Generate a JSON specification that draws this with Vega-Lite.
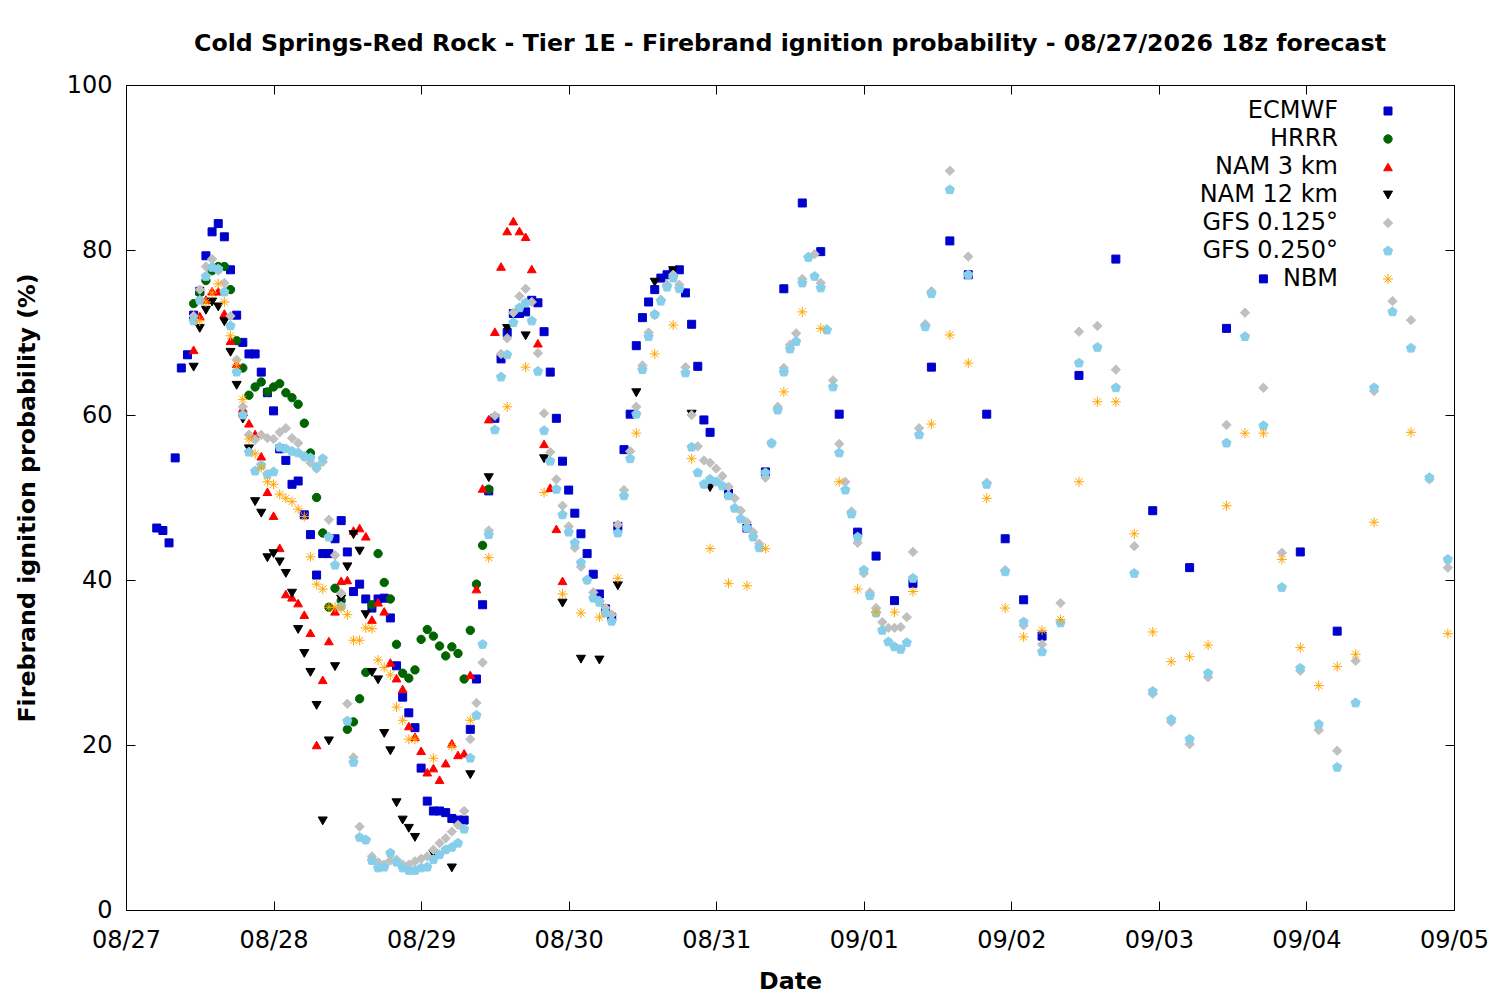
{
"$schema":"https://vega.github.io/schema/vega-lite/v6.json",
"autosize":{"type":"none"},
"width":1328,"height":825,
"padding":{"left":126,"top":85,"right":46,"bottom":90},
"background":"white",
"title":{"text":"Cold Springs-Red Rock - Tier 1E - Firebrand ignition probability - 08/27/2026 18z forecast","font":"DejaVu Sans","fontSize":23.7,"fontWeight":"bold","color":"black","anchor":"middle","offset":-2,"baseline":"alphabetic"},
"config":{
 "view":{"stroke":"black","strokeWidth":1},
 "font":"DejaVu Sans",
 "axis":{"domain":false,"grid":false,"labelColor":"black","tickColor":"black","titleColor":"black","labelFont":"DejaVu Sans","titleFont":"DejaVu Sans","tickWidth":1},
 "legend":{"orient":"none","legendX":1250,"legendY":14,"labelFont":"DejaVu Sans","labelFontSize":24,"labelColor":"black","labelAlign":"right","labelOffset":-62,"labelLimit":400,"symbolStrokeWidth":1,"symbolOpacity":1,"rowPadding":4,"padding":0}
},
"data":{"values":[
{"m":"ECMWF","t":"2026-08-27T05:00","v":46.3},{"m":"ECMWF","t":"2026-08-27T06:00","v":46.0},{"m":"ECMWF","t":"2026-08-27T07:00","v":44.5},{"m":"ECMWF","t":"2026-08-27T08:00","v":54.8},{"m":"ECMWF","t":"2026-08-27T09:00","v":65.7},{"m":"ECMWF","t":"2026-08-27T10:00","v":67.3},{"m":"ECMWF","t":"2026-08-27T11:00","v":72.1},{"m":"ECMWF","t":"2026-08-27T12:00","v":75.0},{"m":"ECMWF","t":"2026-08-27T13:00","v":79.3},{"m":"ECMWF","t":"2026-08-27T14:00","v":82.2},{"m":"ECMWF","t":"2026-08-27T15:00","v":83.2},{"m":"ECMWF","t":"2026-08-27T16:00","v":81.6},{"m":"ECMWF","t":"2026-08-27T17:00","v":77.6},{"m":"ECMWF","t":"2026-08-27T18:00","v":72.1},{"m":"ECMWF","t":"2026-08-27T19:00","v":68.8},{"m":"ECMWF","t":"2026-08-27T20:00","v":67.4},{"m":"ECMWF","t":"2026-08-27T21:00","v":67.4},{"m":"ECMWF","t":"2026-08-27T22:00","v":65.2},{"m":"ECMWF","t":"2026-08-27T23:00","v":62.7},
{"m":"ECMWF","t":"2026-08-28T00:00","v":60.5},{"m":"ECMWF","t":"2026-08-28T01:00","v":55.9},{"m":"ECMWF","t":"2026-08-28T02:00","v":54.5},{"m":"ECMWF","t":"2026-08-28T03:00","v":51.6},{"m":"ECMWF","t":"2026-08-28T04:00","v":52.0},{"m":"ECMWF","t":"2026-08-28T05:00","v":47.9},{"m":"ECMWF","t":"2026-08-28T06:00","v":45.5},{"m":"ECMWF","t":"2026-08-28T07:00","v":40.6},{"m":"ECMWF","t":"2026-08-28T08:00","v":43.2},{"m":"ECMWF","t":"2026-08-28T09:00","v":43.2},{"m":"ECMWF","t":"2026-08-28T10:00","v":45.0},{"m":"ECMWF","t":"2026-08-28T11:00","v":47.2},{"m":"ECMWF","t":"2026-08-28T12:00","v":43.4},{"m":"ECMWF","t":"2026-08-28T13:00","v":38.6},{"m":"ECMWF","t":"2026-08-28T14:00","v":39.5},{"m":"ECMWF","t":"2026-08-28T15:00","v":37.7},{"m":"ECMWF","t":"2026-08-28T16:00","v":36.6},{"m":"ECMWF","t":"2026-08-28T17:00","v":37.7},{"m":"ECMWF","t":"2026-08-28T18:00","v":37.8},{"m":"ECMWF","t":"2026-08-28T19:00","v":35.4},{"m":"ECMWF","t":"2026-08-28T20:00","v":29.6},{"m":"ECMWF","t":"2026-08-28T21:00","v":25.8},{"m":"ECMWF","t":"2026-08-28T22:00","v":23.9},{"m":"ECMWF","t":"2026-08-28T23:00","v":22.1},
{"m":"ECMWF","t":"2026-08-29T00:00","v":17.2},{"m":"ECMWF","t":"2026-08-29T01:00","v":13.2},{"m":"ECMWF","t":"2026-08-29T02:00","v":12.0},{"m":"ECMWF","t":"2026-08-29T03:00","v":12.0},{"m":"ECMWF","t":"2026-08-29T04:00","v":11.8},{"m":"ECMWF","t":"2026-08-29T05:00","v":11.1},{"m":"ECMWF","t":"2026-08-29T06:00","v":10.9},{"m":"ECMWF","t":"2026-08-29T07:00","v":10.9},{"m":"ECMWF","t":"2026-08-29T08:00","v":21.9},{"m":"ECMWF","t":"2026-08-29T09:00","v":28.0},{"m":"ECMWF","t":"2026-08-29T10:00","v":37.0},{"m":"ECMWF","t":"2026-08-29T11:00","v":50.8},{"m":"ECMWF","t":"2026-08-29T12:00","v":59.6},{"m":"ECMWF","t":"2026-08-29T13:00","v":66.8},{"m":"ECMWF","t":"2026-08-29T14:00","v":70.0},{"m":"ECMWF","t":"2026-08-29T15:00","v":72.3},{"m":"ECMWF","t":"2026-08-29T16:00","v":72.3},{"m":"ECMWF","t":"2026-08-29T17:00","v":72.5},{"m":"ECMWF","t":"2026-08-29T18:00","v":73.9},{"m":"ECMWF","t":"2026-08-29T19:00","v":73.6},{"m":"ECMWF","t":"2026-08-29T20:00","v":70.1},{"m":"ECMWF","t":"2026-08-29T21:00","v":65.2},{"m":"ECMWF","t":"2026-08-29T22:00","v":59.6},{"m":"ECMWF","t":"2026-08-29T23:00","v":54.4},
{"m":"ECMWF","t":"2026-08-30T00:00","v":50.9},{"m":"ECMWF","t":"2026-08-30T01:00","v":48.1},{"m":"ECMWF","t":"2026-08-30T02:00","v":45.6},{"m":"ECMWF","t":"2026-08-30T03:00","v":43.2},{"m":"ECMWF","t":"2026-08-30T04:00","v":40.7},{"m":"ECMWF","t":"2026-08-30T05:00","v":38.3},{"m":"ECMWF","t":"2026-08-30T06:00","v":36.5},{"m":"ECMWF","t":"2026-08-30T07:00","v":35.5},{"m":"ECMWF","t":"2026-08-30T08:00","v":46.5},{"m":"ECMWF","t":"2026-08-30T09:00","v":55.8},{"m":"ECMWF","t":"2026-08-30T10:00","v":60.1},{"m":"ECMWF","t":"2026-08-30T11:00","v":68.4},{"m":"ECMWF","t":"2026-08-30T12:00","v":71.8},{"m":"ECMWF","t":"2026-08-30T13:00","v":73.7},{"m":"ECMWF","t":"2026-08-30T14:00","v":75.2},{"m":"ECMWF","t":"2026-08-30T15:00","v":76.6},{"m":"ECMWF","t":"2026-08-30T16:00","v":77.0},{"m":"ECMWF","t":"2026-08-30T17:00","v":77.3},{"m":"ECMWF","t":"2026-08-30T18:00","v":77.6},{"m":"ECMWF","t":"2026-08-30T19:00","v":74.8},{"m":"ECMWF","t":"2026-08-30T20:00","v":71.0},{"m":"ECMWF","t":"2026-08-30T21:00","v":65.9},{"m":"ECMWF","t":"2026-08-30T22:00","v":59.4},{"m":"ECMWF","t":"2026-08-30T23:00","v":57.9},
{"m":"ECMWF","t":"2026-08-31T02:00","v":50.5},{"m":"ECMWF","t":"2026-08-31T05:00","v":46.3},{"m":"ECMWF","t":"2026-08-31T08:00","v":53.1},{"m":"ECMWF","t":"2026-08-31T11:00","v":75.3},{"m":"ECMWF","t":"2026-08-31T14:00","v":85.7},{"m":"ECMWF","t":"2026-08-31T17:00","v":79.8},{"m":"ECMWF","t":"2026-08-31T20:00","v":60.1},{"m":"ECMWF","t":"2026-08-31T23:00","v":45.8},
{"m":"ECMWF","t":"2026-09-01T02:00","v":42.9},{"m":"ECMWF","t":"2026-09-01T05:00","v":37.5},{"m":"ECMWF","t":"2026-09-01T08:00","v":39.6},{"m":"ECMWF","t":"2026-09-01T11:00","v":65.8},{"m":"ECMWF","t":"2026-09-01T14:00","v":81.1},{"m":"ECMWF","t":"2026-09-01T17:00","v":77.0},{"m":"ECMWF","t":"2026-09-01T20:00","v":60.1},{"m":"ECMWF","t":"2026-09-01T23:00","v":45.0},
{"m":"ECMWF","t":"2026-09-02T02:00","v":37.6},{"m":"ECMWF","t":"2026-09-02T05:00","v":33.2},{"m":"ECMWF","t":"2026-09-02T11:00","v":64.8},{"m":"ECMWF","t":"2026-09-02T17:00","v":78.9},{"m":"ECMWF","t":"2026-09-02T23:00","v":48.4},
{"m":"ECMWF","t":"2026-09-03T05:00","v":41.5},{"m":"ECMWF","t":"2026-09-03T11:00","v":70.5},{"m":"ECMWF","t":"2026-09-03T17:00","v":76.5},{"m":"ECMWF","t":"2026-09-03T23:00","v":43.4},{"m":"ECMWF","t":"2026-09-04T05:00","v":33.8},
{"m":"HRRR","t":"2026-08-27T11:00","v":73.5},{"m":"HRRR","t":"2026-08-27T12:00","v":74.8},{"m":"HRRR","t":"2026-08-27T13:00","v":76.3},{"m":"HRRR","t":"2026-08-27T14:00","v":77.5},{"m":"HRRR","t":"2026-08-27T15:00","v":78.0},{"m":"HRRR","t":"2026-08-27T16:00","v":78.0},{"m":"HRRR","t":"2026-08-27T17:00","v":75.2},{"m":"HRRR","t":"2026-08-27T18:00","v":69.0},{"m":"HRRR","t":"2026-08-27T19:00","v":65.7},{"m":"HRRR","t":"2026-08-27T20:00","v":62.4},{"m":"HRRR","t":"2026-08-27T21:00","v":63.4},{"m":"HRRR","t":"2026-08-27T22:00","v":64.0},{"m":"HRRR","t":"2026-08-27T23:00","v":62.8},
{"m":"HRRR","t":"2026-08-28T00:00","v":63.4},{"m":"HRRR","t":"2026-08-28T01:00","v":63.8},{"m":"HRRR","t":"2026-08-28T02:00","v":62.7},{"m":"HRRR","t":"2026-08-28T03:00","v":62.1},{"m":"HRRR","t":"2026-08-28T04:00","v":61.3},{"m":"HRRR","t":"2026-08-28T05:00","v":59.0},{"m":"HRRR","t":"2026-08-28T06:00","v":55.4},{"m":"HRRR","t":"2026-08-28T07:00","v":50.0},{"m":"HRRR","t":"2026-08-28T08:00","v":45.7},{"m":"HRRR","t":"2026-08-28T09:00","v":36.7},{"m":"HRRR","t":"2026-08-28T10:00","v":39.0},{"m":"HRRR","t":"2026-08-28T11:00","v":37.5},{"m":"HRRR","t":"2026-08-28T12:00","v":21.9},{"m":"HRRR","t":"2026-08-28T13:00","v":22.8},{"m":"HRRR","t":"2026-08-28T14:00","v":25.6},{"m":"HRRR","t":"2026-08-28T15:00","v":28.8},{"m":"HRRR","t":"2026-08-28T16:00","v":37.0},{"m":"HRRR","t":"2026-08-28T17:00","v":43.2},{"m":"HRRR","t":"2026-08-28T18:00","v":39.7},{"m":"HRRR","t":"2026-08-28T19:00","v":37.7},{"m":"HRRR","t":"2026-08-28T20:00","v":32.2},{"m":"HRRR","t":"2026-08-28T21:00","v":28.7},{"m":"HRRR","t":"2026-08-28T22:00","v":28.1},{"m":"HRRR","t":"2026-08-28T23:00","v":29.1},
{"m":"HRRR","t":"2026-08-29T00:00","v":32.8},{"m":"HRRR","t":"2026-08-29T01:00","v":34.0},{"m":"HRRR","t":"2026-08-29T02:00","v":33.2},{"m":"HRRR","t":"2026-08-29T03:00","v":32.0},{"m":"HRRR","t":"2026-08-29T04:00","v":30.8},{"m":"HRRR","t":"2026-08-29T05:00","v":31.9},{"m":"HRRR","t":"2026-08-29T06:00","v":31.1},{"m":"HRRR","t":"2026-08-29T07:00","v":28.0},{"m":"HRRR","t":"2026-08-29T08:00","v":33.9},{"m":"HRRR","t":"2026-08-29T09:00","v":39.5},{"m":"HRRR","t":"2026-08-29T10:00","v":44.2},{"m":"HRRR","t":"2026-08-29T11:00","v":51.0},
{"m":"NAM 3 km","t":"2026-08-27T11:00","v":67.9},{"m":"NAM 3 km","t":"2026-08-27T12:00","v":72.0},{"m":"NAM 3 km","t":"2026-08-27T13:00","v":74.0},{"m":"NAM 3 km","t":"2026-08-27T14:00","v":75.0},{"m":"NAM 3 km","t":"2026-08-27T15:00","v":75.0},{"m":"NAM 3 km","t":"2026-08-27T16:00","v":72.3},{"m":"NAM 3 km","t":"2026-08-27T17:00","v":69.0},{"m":"NAM 3 km","t":"2026-08-27T18:00","v":66.2},{"m":"NAM 3 km","t":"2026-08-27T19:00","v":60.8},{"m":"NAM 3 km","t":"2026-08-27T20:00","v":59.0},{"m":"NAM 3 km","t":"2026-08-27T21:00","v":57.7},{"m":"NAM 3 km","t":"2026-08-27T22:00","v":55.0},{"m":"NAM 3 km","t":"2026-08-27T23:00","v":50.7},
{"m":"NAM 3 km","t":"2026-08-28T00:00","v":47.8},{"m":"NAM 3 km","t":"2026-08-28T01:00","v":43.9},{"m":"NAM 3 km","t":"2026-08-28T02:00","v":38.3},{"m":"NAM 3 km","t":"2026-08-28T03:00","v":37.9},{"m":"NAM 3 km","t":"2026-08-28T04:00","v":37.2},{"m":"NAM 3 km","t":"2026-08-28T05:00","v":35.8},{"m":"NAM 3 km","t":"2026-08-28T06:00","v":33.6},{"m":"NAM 3 km","t":"2026-08-28T07:00","v":20.0},{"m":"NAM 3 km","t":"2026-08-28T08:00","v":27.9},{"m":"NAM 3 km","t":"2026-08-28T09:00","v":32.6},{"m":"NAM 3 km","t":"2026-08-28T10:00","v":36.2},{"m":"NAM 3 km","t":"2026-08-28T11:00","v":39.9},{"m":"NAM 3 km","t":"2026-08-28T12:00","v":40.0},{"m":"NAM 3 km","t":"2026-08-28T13:00","v":46.0},{"m":"NAM 3 km","t":"2026-08-28T14:00","v":46.3},{"m":"NAM 3 km","t":"2026-08-28T15:00","v":45.3},{"m":"NAM 3 km","t":"2026-08-28T16:00","v":35.2},{"m":"NAM 3 km","t":"2026-08-28T17:00","v":37.3},{"m":"NAM 3 km","t":"2026-08-28T18:00","v":36.2},{"m":"NAM 3 km","t":"2026-08-28T19:00","v":30.0},{"m":"NAM 3 km","t":"2026-08-28T20:00","v":28.1},{"m":"NAM 3 km","t":"2026-08-28T21:00","v":26.8},{"m":"NAM 3 km","t":"2026-08-28T22:00","v":22.3},{"m":"NAM 3 km","t":"2026-08-28T23:00","v":21.0},
{"m":"NAM 3 km","t":"2026-08-29T00:00","v":19.3},{"m":"NAM 3 km","t":"2026-08-29T01:00","v":16.7},{"m":"NAM 3 km","t":"2026-08-29T02:00","v":17.2},{"m":"NAM 3 km","t":"2026-08-29T03:00","v":15.8},{"m":"NAM 3 km","t":"2026-08-29T04:00","v":17.8},{"m":"NAM 3 km","t":"2026-08-29T05:00","v":20.2},{"m":"NAM 3 km","t":"2026-08-29T06:00","v":18.8},{"m":"NAM 3 km","t":"2026-08-29T07:00","v":19.0},{"m":"NAM 3 km","t":"2026-08-29T08:00","v":28.5},{"m":"NAM 3 km","t":"2026-08-29T09:00","v":38.9},{"m":"NAM 3 km","t":"2026-08-29T10:00","v":51.1},{"m":"NAM 3 km","t":"2026-08-29T11:00","v":59.5},{"m":"NAM 3 km","t":"2026-08-29T12:00","v":70.1},{"m":"NAM 3 km","t":"2026-08-29T13:00","v":78.0},{"m":"NAM 3 km","t":"2026-08-29T14:00","v":82.3},{"m":"NAM 3 km","t":"2026-08-29T15:00","v":83.5},{"m":"NAM 3 km","t":"2026-08-29T16:00","v":82.3},{"m":"NAM 3 km","t":"2026-08-29T17:00","v":81.6},{"m":"NAM 3 km","t":"2026-08-29T18:00","v":77.7},{"m":"NAM 3 km","t":"2026-08-29T19:00","v":68.7},{"m":"NAM 3 km","t":"2026-08-29T20:00","v":56.5},{"m":"NAM 3 km","t":"2026-08-29T21:00","v":51.2},{"m":"NAM 3 km","t":"2026-08-29T22:00","v":46.2},{"m":"NAM 3 km","t":"2026-08-29T23:00","v":39.9},
{"m":"NAM 12 km","t":"2026-08-27T11:00","v":65.8},{"m":"NAM 12 km","t":"2026-08-27T12:00","v":70.5},{"m":"NAM 12 km","t":"2026-08-27T13:00","v":72.7},{"m":"NAM 12 km","t":"2026-08-27T14:00","v":73.7},{"m":"NAM 12 km","t":"2026-08-27T15:00","v":73.1},{"m":"NAM 12 km","t":"2026-08-27T16:00","v":71.3},{"m":"NAM 12 km","t":"2026-08-27T17:00","v":67.6},{"m":"NAM 12 km","t":"2026-08-27T18:00","v":63.6},{"m":"NAM 12 km","t":"2026-08-27T19:00","v":59.5},{"m":"NAM 12 km","t":"2026-08-27T20:00","v":55.9},{"m":"NAM 12 km","t":"2026-08-27T21:00","v":49.5},{"m":"NAM 12 km","t":"2026-08-27T22:00","v":48.1},{"m":"NAM 12 km","t":"2026-08-27T23:00","v":42.7},
{"m":"NAM 12 km","t":"2026-08-28T00:00","v":43.2},{"m":"NAM 12 km","t":"2026-08-28T01:00","v":42.2},{"m":"NAM 12 km","t":"2026-08-28T02:00","v":40.8},{"m":"NAM 12 km","t":"2026-08-28T03:00","v":38.4},{"m":"NAM 12 km","t":"2026-08-28T04:00","v":34.0},{"m":"NAM 12 km","t":"2026-08-28T05:00","v":31.1},{"m":"NAM 12 km","t":"2026-08-28T06:00","v":28.8},{"m":"NAM 12 km","t":"2026-08-28T07:00","v":24.8},{"m":"NAM 12 km","t":"2026-08-28T08:00","v":10.8},{"m":"NAM 12 km","t":"2026-08-28T09:00","v":20.5},{"m":"NAM 12 km","t":"2026-08-28T10:00","v":29.5},{"m":"NAM 12 km","t":"2026-08-28T11:00","v":37.7},{"m":"NAM 12 km","t":"2026-08-28T12:00","v":41.6},{"m":"NAM 12 km","t":"2026-08-28T13:00","v":45.5},{"m":"NAM 12 km","t":"2026-08-28T14:00","v":43.5},{"m":"NAM 12 km","t":"2026-08-28T15:00","v":35.8},{"m":"NAM 12 km","t":"2026-08-28T16:00","v":28.8},{"m":"NAM 12 km","t":"2026-08-28T17:00","v":27.9},{"m":"NAM 12 km","t":"2026-08-28T18:00","v":21.4},{"m":"NAM 12 km","t":"2026-08-28T19:00","v":19.3},{"m":"NAM 12 km","t":"2026-08-28T20:00","v":13.0},{"m":"NAM 12 km","t":"2026-08-28T21:00","v":10.9},{"m":"NAM 12 km","t":"2026-08-28T22:00","v":9.9},{"m":"NAM 12 km","t":"2026-08-28T23:00","v":8.8},
{"m":"NAM 12 km","t":"2026-08-29T02:00","v":6.8},{"m":"NAM 12 km","t":"2026-08-29T05:00","v":5.1},{"m":"NAM 12 km","t":"2026-08-29T08:00","v":16.4},{"m":"NAM 12 km","t":"2026-08-29T11:00","v":52.4},{"m":"NAM 12 km","t":"2026-08-29T14:00","v":70.5},{"m":"NAM 12 km","t":"2026-08-29T17:00","v":69.6},{"m":"NAM 12 km","t":"2026-08-29T20:00","v":54.7},{"m":"NAM 12 km","t":"2026-08-29T23:00","v":37.2},
{"m":"NAM 12 km","t":"2026-08-30T02:00","v":30.4},{"m":"NAM 12 km","t":"2026-08-30T05:00","v":30.3},{"m":"NAM 12 km","t":"2026-08-30T08:00","v":39.3},{"m":"NAM 12 km","t":"2026-08-30T11:00","v":62.7},{"m":"NAM 12 km","t":"2026-08-30T14:00","v":76.1},{"m":"NAM 12 km","t":"2026-08-30T17:00","v":77.5},{"m":"NAM 12 km","t":"2026-08-30T20:00","v":60.1},{"m":"NAM 12 km","t":"2026-08-30T23:00","v":51.2},
{"m":"GFS 0.125°","t":"2026-08-27T11:00","v":72.0},{"m":"GFS 0.125°","t":"2026-08-27T12:00","v":75.2},{"m":"GFS 0.125°","t":"2026-08-27T13:00","v":78.0},{"m":"GFS 0.125°","t":"2026-08-27T14:00","v":78.9},{"m":"GFS 0.125°","t":"2026-08-27T15:00","v":77.5},{"m":"GFS 0.125°","t":"2026-08-27T16:00","v":76.0},{"m":"GFS 0.125°","t":"2026-08-27T17:00","v":72.0},{"m":"GFS 0.125°","t":"2026-08-27T18:00","v":66.7},{"m":"GFS 0.125°","t":"2026-08-27T19:00","v":61.0},{"m":"GFS 0.125°","t":"2026-08-27T20:00","v":57.6},{"m":"GFS 0.125°","t":"2026-08-27T21:00","v":57.0},{"m":"GFS 0.125°","t":"2026-08-27T22:00","v":57.6},{"m":"GFS 0.125°","t":"2026-08-27T23:00","v":57.2},
{"m":"GFS 0.125°","t":"2026-08-28T00:00","v":57.1},{"m":"GFS 0.125°","t":"2026-08-28T01:00","v":57.9},{"m":"GFS 0.125°","t":"2026-08-28T02:00","v":58.4},{"m":"GFS 0.125°","t":"2026-08-28T03:00","v":57.2},{"m":"GFS 0.125°","t":"2026-08-28T04:00","v":56.6},{"m":"GFS 0.125°","t":"2026-08-28T05:00","v":54.9},{"m":"GFS 0.125°","t":"2026-08-28T06:00","v":54.2},{"m":"GFS 0.125°","t":"2026-08-28T07:00","v":53.5},{"m":"GFS 0.125°","t":"2026-08-28T08:00","v":54.3},{"m":"GFS 0.125°","t":"2026-08-28T09:00","v":47.3},{"m":"GFS 0.125°","t":"2026-08-28T10:00","v":43.0},{"m":"GFS 0.125°","t":"2026-08-28T11:00","v":38.4},{"m":"GFS 0.125°","t":"2026-08-28T12:00","v":25.0},{"m":"GFS 0.125°","t":"2026-08-28T13:00","v":18.5},{"m":"GFS 0.125°","t":"2026-08-28T14:00","v":10.1},{"m":"GFS 0.125°","t":"2026-08-28T15:00","v":8.5},{"m":"GFS 0.125°","t":"2026-08-28T16:00","v":6.5},{"m":"GFS 0.125°","t":"2026-08-28T17:00","v":5.8},{"m":"GFS 0.125°","t":"2026-08-28T18:00","v":5.5},{"m":"GFS 0.125°","t":"2026-08-28T19:00","v":6.0},{"m":"GFS 0.125°","t":"2026-08-28T20:00","v":6.1},{"m":"GFS 0.125°","t":"2026-08-28T21:00","v":5.5},{"m":"GFS 0.125°","t":"2026-08-28T22:00","v":5.5},{"m":"GFS 0.125°","t":"2026-08-28T23:00","v":5.9},
{"m":"GFS 0.125°","t":"2026-08-29T00:00","v":6.2},{"m":"GFS 0.125°","t":"2026-08-29T01:00","v":6.5},{"m":"GFS 0.125°","t":"2026-08-29T02:00","v":7.3},{"m":"GFS 0.125°","t":"2026-08-29T03:00","v":8.1},{"m":"GFS 0.125°","t":"2026-08-29T04:00","v":8.7},{"m":"GFS 0.125°","t":"2026-08-29T05:00","v":9.5},{"m":"GFS 0.125°","t":"2026-08-29T06:00","v":10.3},{"m":"GFS 0.125°","t":"2026-08-29T07:00","v":12.0},{"m":"GFS 0.125°","t":"2026-08-29T08:00","v":20.7},{"m":"GFS 0.125°","t":"2026-08-29T09:00","v":25.1},{"m":"GFS 0.125°","t":"2026-08-29T10:00","v":30.0},{"m":"GFS 0.125°","t":"2026-08-29T11:00","v":46.0},{"m":"GFS 0.125°","t":"2026-08-29T12:00","v":59.9},{"m":"GFS 0.125°","t":"2026-08-29T13:00","v":67.4},{"m":"GFS 0.125°","t":"2026-08-29T14:00","v":69.3},{"m":"GFS 0.125°","t":"2026-08-29T15:00","v":72.4},{"m":"GFS 0.125°","t":"2026-08-29T16:00","v":74.4},{"m":"GFS 0.125°","t":"2026-08-29T17:00","v":75.3},{"m":"GFS 0.125°","t":"2026-08-29T18:00","v":73.7},{"m":"GFS 0.125°","t":"2026-08-29T19:00","v":67.5},{"m":"GFS 0.125°","t":"2026-08-29T20:00","v":60.2},{"m":"GFS 0.125°","t":"2026-08-29T21:00","v":55.5},{"m":"GFS 0.125°","t":"2026-08-29T22:00","v":52.2},{"m":"GFS 0.125°","t":"2026-08-29T23:00","v":49.0},
{"m":"GFS 0.125°","t":"2026-08-30T00:00","v":46.5},{"m":"GFS 0.125°","t":"2026-08-30T01:00","v":43.9},{"m":"GFS 0.125°","t":"2026-08-30T02:00","v":41.6},{"m":"GFS 0.125°","t":"2026-08-30T03:00","v":40.0},{"m":"GFS 0.125°","t":"2026-08-30T04:00","v":38.5},{"m":"GFS 0.125°","t":"2026-08-30T05:00","v":37.5},{"m":"GFS 0.125°","t":"2026-08-30T06:00","v":36.6},{"m":"GFS 0.125°","t":"2026-08-30T07:00","v":35.8},{"m":"GFS 0.125°","t":"2026-08-30T08:00","v":46.7},{"m":"GFS 0.125°","t":"2026-08-30T09:00","v":50.9},{"m":"GFS 0.125°","t":"2026-08-30T10:00","v":55.6},{"m":"GFS 0.125°","t":"2026-08-30T11:00","v":61.0},{"m":"GFS 0.125°","t":"2026-08-30T12:00","v":66.0},{"m":"GFS 0.125°","t":"2026-08-30T13:00","v":70.0},{"m":"GFS 0.125°","t":"2026-08-30T14:00","v":72.1},{"m":"GFS 0.125°","t":"2026-08-30T15:00","v":74.0},{"m":"GFS 0.125°","t":"2026-08-30T16:00","v":75.8},{"m":"GFS 0.125°","t":"2026-08-30T17:00","v":77.0},{"m":"GFS 0.125°","t":"2026-08-30T18:00","v":75.8},{"m":"GFS 0.125°","t":"2026-08-30T19:00","v":65.8},{"m":"GFS 0.125°","t":"2026-08-30T20:00","v":60.0},{"m":"GFS 0.125°","t":"2026-08-30T21:00","v":56.2},{"m":"GFS 0.125°","t":"2026-08-30T22:00","v":54.5},{"m":"GFS 0.125°","t":"2026-08-30T23:00","v":54.2},
{"m":"GFS 0.125°","t":"2026-08-31T00:00","v":53.5},{"m":"GFS 0.125°","t":"2026-08-31T01:00","v":52.6},{"m":"GFS 0.125°","t":"2026-08-31T02:00","v":51.3},{"m":"GFS 0.125°","t":"2026-08-31T03:00","v":49.9},{"m":"GFS 0.125°","t":"2026-08-31T04:00","v":48.4},{"m":"GFS 0.125°","t":"2026-08-31T05:00","v":47.0},{"m":"GFS 0.125°","t":"2026-08-31T06:00","v":45.8},{"m":"GFS 0.125°","t":"2026-08-31T07:00","v":44.4},{"m":"GFS 0.125°","t":"2026-08-31T08:00","v":52.4},{"m":"GFS 0.125°","t":"2026-08-31T09:00","v":56.5},{"m":"GFS 0.125°","t":"2026-08-31T10:00","v":61.0},{"m":"GFS 0.125°","t":"2026-08-31T11:00","v":65.7},{"m":"GFS 0.125°","t":"2026-08-31T12:00","v":68.5},{"m":"GFS 0.125°","t":"2026-08-31T13:00","v":69.9},{"m":"GFS 0.125°","t":"2026-08-31T14:00","v":76.5},{"m":"GFS 0.125°","t":"2026-08-31T15:00","v":79.2},{"m":"GFS 0.125°","t":"2026-08-31T16:00","v":79.5},{"m":"GFS 0.125°","t":"2026-08-31T17:00","v":76.0},{"m":"GFS 0.125°","t":"2026-08-31T18:00","v":70.4},{"m":"GFS 0.125°","t":"2026-08-31T19:00","v":64.2},{"m":"GFS 0.125°","t":"2026-08-31T20:00","v":56.5},{"m":"GFS 0.125°","t":"2026-08-31T21:00","v":51.9},{"m":"GFS 0.125°","t":"2026-08-31T22:00","v":48.3},{"m":"GFS 0.125°","t":"2026-08-31T23:00","v":44.5},
{"m":"GFS 0.125°","t":"2026-09-01T00:00","v":40.8},{"m":"GFS 0.125°","t":"2026-09-01T01:00","v":38.5},{"m":"GFS 0.125°","t":"2026-09-01T02:00","v":36.6},{"m":"GFS 0.125°","t":"2026-09-01T03:00","v":34.9},{"m":"GFS 0.125°","t":"2026-09-01T04:00","v":34.2},{"m":"GFS 0.125°","t":"2026-09-01T05:00","v":34.2},{"m":"GFS 0.125°","t":"2026-09-01T06:00","v":34.3},{"m":"GFS 0.125°","t":"2026-09-01T07:00","v":35.5},{"m":"GFS 0.125°","t":"2026-09-01T08:00","v":43.4},{"m":"GFS 0.125°","t":"2026-09-01T09:00","v":58.4},{"m":"GFS 0.125°","t":"2026-09-01T10:00","v":71.0},{"m":"GFS 0.125°","t":"2026-09-01T11:00","v":75.0},{"m":"GFS 0.125°","t":"2026-09-01T14:00","v":89.6},{"m":"GFS 0.125°","t":"2026-09-01T17:00","v":79.2},{"m":"GFS 0.125°","t":"2026-09-01T20:00","v":51.8},{"m":"GFS 0.125°","t":"2026-09-01T23:00","v":41.2},
{"m":"GFS 0.125°","t":"2026-09-02T02:00","v":34.5},{"m":"GFS 0.125°","t":"2026-09-02T05:00","v":32.2},{"m":"GFS 0.125°","t":"2026-09-02T08:00","v":37.2},{"m":"GFS 0.125°","t":"2026-09-02T11:00","v":70.1},{"m":"GFS 0.125°","t":"2026-09-02T14:00","v":70.8},{"m":"GFS 0.125°","t":"2026-09-02T17:00","v":65.5},{"m":"GFS 0.125°","t":"2026-09-02T20:00","v":44.1},{"m":"GFS 0.125°","t":"2026-09-02T23:00","v":26.2},
{"m":"GFS 0.125°","t":"2026-09-03T02:00","v":22.8},{"m":"GFS 0.125°","t":"2026-09-03T05:00","v":20.1},{"m":"GFS 0.125°","t":"2026-09-03T08:00","v":28.2},{"m":"GFS 0.125°","t":"2026-09-03T11:00","v":58.8},{"m":"GFS 0.125°","t":"2026-09-03T14:00","v":72.4},{"m":"GFS 0.125°","t":"2026-09-03T17:00","v":63.3},{"m":"GFS 0.125°","t":"2026-09-03T20:00","v":43.3},{"m":"GFS 0.125°","t":"2026-09-03T23:00","v":29.0},
{"m":"GFS 0.125°","t":"2026-09-04T02:00","v":21.8},{"m":"GFS 0.125°","t":"2026-09-04T05:00","v":19.3},{"m":"GFS 0.125°","t":"2026-09-04T08:00","v":30.2},{"m":"GFS 0.125°","t":"2026-09-04T11:00","v":62.9},{"m":"GFS 0.125°","t":"2026-09-04T14:00","v":73.8},{"m":"GFS 0.125°","t":"2026-09-04T17:00","v":71.5},{"m":"GFS 0.125°","t":"2026-09-04T20:00","v":52.2},{"m":"GFS 0.125°","t":"2026-09-04T23:00","v":41.5},
{"m":"GFS 0.250°","t":"2026-08-27T11:00","v":71.4},{"m":"GFS 0.250°","t":"2026-08-27T12:00","v":73.9},{"m":"GFS 0.250°","t":"2026-08-27T13:00","v":76.8},{"m":"GFS 0.250°","t":"2026-08-27T14:00","v":77.9},{"m":"GFS 0.250°","t":"2026-08-27T15:00","v":77.7},{"m":"GFS 0.250°","t":"2026-08-27T16:00","v":74.9},{"m":"GFS 0.250°","t":"2026-08-27T17:00","v":70.8},{"m":"GFS 0.250°","t":"2026-08-27T18:00","v":65.2},{"m":"GFS 0.250°","t":"2026-08-27T19:00","v":60.0},{"m":"GFS 0.250°","t":"2026-08-27T20:00","v":55.5},{"m":"GFS 0.250°","t":"2026-08-27T21:00","v":53.2},{"m":"GFS 0.250°","t":"2026-08-27T22:00","v":53.9},{"m":"GFS 0.250°","t":"2026-08-27T23:00","v":52.8},
{"m":"GFS 0.250°","t":"2026-08-28T00:00","v":53.1},{"m":"GFS 0.250°","t":"2026-08-28T01:00","v":56.1},{"m":"GFS 0.250°","t":"2026-08-28T02:00","v":55.9},{"m":"GFS 0.250°","t":"2026-08-28T03:00","v":55.6},{"m":"GFS 0.250°","t":"2026-08-28T04:00","v":55.4},{"m":"GFS 0.250°","t":"2026-08-28T05:00","v":55.0},{"m":"GFS 0.250°","t":"2026-08-28T06:00","v":54.8},{"m":"GFS 0.250°","t":"2026-08-28T07:00","v":53.7},{"m":"GFS 0.250°","t":"2026-08-28T08:00","v":54.7},{"m":"GFS 0.250°","t":"2026-08-28T09:00","v":45.2},{"m":"GFS 0.250°","t":"2026-08-28T10:00","v":41.8},{"m":"GFS 0.250°","t":"2026-08-28T11:00","v":36.8},{"m":"GFS 0.250°","t":"2026-08-28T12:00","v":22.9},{"m":"GFS 0.250°","t":"2026-08-28T13:00","v":17.9},{"m":"GFS 0.250°","t":"2026-08-28T14:00","v":8.8},{"m":"GFS 0.250°","t":"2026-08-28T15:00","v":8.5},{"m":"GFS 0.250°","t":"2026-08-28T16:00","v":6.0},{"m":"GFS 0.250°","t":"2026-08-28T17:00","v":5.1},{"m":"GFS 0.250°","t":"2026-08-28T18:00","v":5.2},{"m":"GFS 0.250°","t":"2026-08-28T19:00","v":6.9},{"m":"GFS 0.250°","t":"2026-08-28T20:00","v":5.8},{"m":"GFS 0.250°","t":"2026-08-28T21:00","v":5.1},{"m":"GFS 0.250°","t":"2026-08-28T22:00","v":4.8},{"m":"GFS 0.250°","t":"2026-08-28T23:00","v":4.8},
{"m":"GFS 0.250°","t":"2026-08-29T00:00","v":5.1},{"m":"GFS 0.250°","t":"2026-08-29T01:00","v":5.2},{"m":"GFS 0.250°","t":"2026-08-29T02:00","v":6.1},{"m":"GFS 0.250°","t":"2026-08-29T03:00","v":6.7},{"m":"GFS 0.250°","t":"2026-08-29T04:00","v":7.3},{"m":"GFS 0.250°","t":"2026-08-29T05:00","v":7.6},{"m":"GFS 0.250°","t":"2026-08-29T06:00","v":8.1},{"m":"GFS 0.250°","t":"2026-08-29T07:00","v":9.8},{"m":"GFS 0.250°","t":"2026-08-29T08:00","v":18.4},{"m":"GFS 0.250°","t":"2026-08-29T09:00","v":23.6},{"m":"GFS 0.250°","t":"2026-08-29T10:00","v":32.2},{"m":"GFS 0.250°","t":"2026-08-29T11:00","v":45.5},{"m":"GFS 0.250°","t":"2026-08-29T12:00","v":58.2},{"m":"GFS 0.250°","t":"2026-08-29T13:00","v":64.6},{"m":"GFS 0.250°","t":"2026-08-29T14:00","v":67.3},{"m":"GFS 0.250°","t":"2026-08-29T15:00","v":71.2},{"m":"GFS 0.250°","t":"2026-08-29T16:00","v":73.0},{"m":"GFS 0.250°","t":"2026-08-29T17:00","v":73.6},{"m":"GFS 0.250°","t":"2026-08-29T18:00","v":71.4},{"m":"GFS 0.250°","t":"2026-08-29T19:00","v":65.3},{"m":"GFS 0.250°","t":"2026-08-29T20:00","v":58.1},{"m":"GFS 0.250°","t":"2026-08-29T21:00","v":54.4},{"m":"GFS 0.250°","t":"2026-08-29T22:00","v":51.0},{"m":"GFS 0.250°","t":"2026-08-29T23:00","v":47.9},
{"m":"GFS 0.250°","t":"2026-08-30T00:00","v":45.8},{"m":"GFS 0.250°","t":"2026-08-30T01:00","v":44.5},{"m":"GFS 0.250°","t":"2026-08-30T02:00","v":42.1},{"m":"GFS 0.250°","t":"2026-08-30T03:00","v":40.0},{"m":"GFS 0.250°","t":"2026-08-30T04:00","v":37.8},{"m":"GFS 0.250°","t":"2026-08-30T05:00","v":37.3},{"m":"GFS 0.250°","t":"2026-08-30T06:00","v":36.0},{"m":"GFS 0.250°","t":"2026-08-30T07:00","v":35.0},{"m":"GFS 0.250°","t":"2026-08-30T08:00","v":45.7},{"m":"GFS 0.250°","t":"2026-08-30T09:00","v":50.2},{"m":"GFS 0.250°","t":"2026-08-30T10:00","v":54.7},{"m":"GFS 0.250°","t":"2026-08-30T11:00","v":60.1},{"m":"GFS 0.250°","t":"2026-08-30T12:00","v":65.5},{"m":"GFS 0.250°","t":"2026-08-30T13:00","v":69.5},{"m":"GFS 0.250°","t":"2026-08-30T14:00","v":72.2},{"m":"GFS 0.250°","t":"2026-08-30T15:00","v":73.8},{"m":"GFS 0.250°","t":"2026-08-30T16:00","v":75.5},{"m":"GFS 0.250°","t":"2026-08-30T17:00","v":76.6},{"m":"GFS 0.250°","t":"2026-08-30T18:00","v":75.3},{"m":"GFS 0.250°","t":"2026-08-30T19:00","v":65.1},{"m":"GFS 0.250°","t":"2026-08-30T20:00","v":56.1},{"m":"GFS 0.250°","t":"2026-08-30T21:00","v":53.0},{"m":"GFS 0.250°","t":"2026-08-30T22:00","v":51.6},{"m":"GFS 0.250°","t":"2026-08-30T23:00","v":52.2},
{"m":"GFS 0.250°","t":"2026-08-31T00:00","v":51.9},{"m":"GFS 0.250°","t":"2026-08-31T01:00","v":51.4},{"m":"GFS 0.250°","t":"2026-08-31T02:00","v":50.2},{"m":"GFS 0.250°","t":"2026-08-31T03:00","v":48.7},{"m":"GFS 0.250°","t":"2026-08-31T04:00","v":47.4},{"m":"GFS 0.250°","t":"2026-08-31T05:00","v":46.3},{"m":"GFS 0.250°","t":"2026-08-31T06:00","v":45.2},{"m":"GFS 0.250°","t":"2026-08-31T07:00","v":43.9},{"m":"GFS 0.250°","t":"2026-08-31T08:00","v":53.0},{"m":"GFS 0.250°","t":"2026-08-31T09:00","v":56.6},{"m":"GFS 0.250°","t":"2026-08-31T10:00","v":60.6},{"m":"GFS 0.250°","t":"2026-08-31T11:00","v":65.2},{"m":"GFS 0.250°","t":"2026-08-31T12:00","v":68.0},{"m":"GFS 0.250°","t":"2026-08-31T13:00","v":68.9},{"m":"GFS 0.250°","t":"2026-08-31T14:00","v":76.0},{"m":"GFS 0.250°","t":"2026-08-31T15:00","v":79.1},{"m":"GFS 0.250°","t":"2026-08-31T16:00","v":76.8},{"m":"GFS 0.250°","t":"2026-08-31T17:00","v":75.4},{"m":"GFS 0.250°","t":"2026-08-31T18:00","v":70.3},{"m":"GFS 0.250°","t":"2026-08-31T19:00","v":63.4},{"m":"GFS 0.250°","t":"2026-08-31T20:00","v":55.4},{"m":"GFS 0.250°","t":"2026-08-31T21:00","v":50.9},{"m":"GFS 0.250°","t":"2026-08-31T22:00","v":48.0},{"m":"GFS 0.250°","t":"2026-08-31T23:00","v":45.2},
{"m":"GFS 0.250°","t":"2026-09-01T00:00","v":41.2},{"m":"GFS 0.250°","t":"2026-09-01T01:00","v":38.1},{"m":"GFS 0.250°","t":"2026-09-01T02:00","v":36.0},{"m":"GFS 0.250°","t":"2026-09-01T03:00","v":33.9},{"m":"GFS 0.250°","t":"2026-09-01T04:00","v":32.5},{"m":"GFS 0.250°","t":"2026-09-01T05:00","v":31.9},{"m":"GFS 0.250°","t":"2026-09-01T06:00","v":31.6},{"m":"GFS 0.250°","t":"2026-09-01T07:00","v":32.4},{"m":"GFS 0.250°","t":"2026-09-01T08:00","v":40.2},{"m":"GFS 0.250°","t":"2026-09-01T09:00","v":57.6},{"m":"GFS 0.250°","t":"2026-09-01T10:00","v":70.7},{"m":"GFS 0.250°","t":"2026-09-01T11:00","v":74.7},{"m":"GFS 0.250°","t":"2026-09-01T14:00","v":87.3},{"m":"GFS 0.250°","t":"2026-09-01T17:00","v":77.0},{"m":"GFS 0.250°","t":"2026-09-01T20:00","v":51.6},{"m":"GFS 0.250°","t":"2026-09-01T23:00","v":41.0},
{"m":"GFS 0.250°","t":"2026-09-02T02:00","v":34.9},{"m":"GFS 0.250°","t":"2026-09-02T05:00","v":31.3},{"m":"GFS 0.250°","t":"2026-09-02T08:00","v":34.8},{"m":"GFS 0.250°","t":"2026-09-02T11:00","v":66.3},{"m":"GFS 0.250°","t":"2026-09-02T14:00","v":68.2},{"m":"GFS 0.250°","t":"2026-09-02T17:00","v":63.3},{"m":"GFS 0.250°","t":"2026-09-02T20:00","v":40.8},{"m":"GFS 0.250°","t":"2026-09-02T23:00","v":26.5},
{"m":"GFS 0.250°","t":"2026-09-03T02:00","v":23.1},{"m":"GFS 0.250°","t":"2026-09-03T05:00","v":20.7},{"m":"GFS 0.250°","t":"2026-09-03T08:00","v":28.7},{"m":"GFS 0.250°","t":"2026-09-03T11:00","v":56.6},{"m":"GFS 0.250°","t":"2026-09-03T14:00","v":69.5},{"m":"GFS 0.250°","t":"2026-09-03T17:00","v":58.7},{"m":"GFS 0.250°","t":"2026-09-03T20:00","v":39.1},{"m":"GFS 0.250°","t":"2026-09-03T23:00","v":29.3},
{"m":"GFS 0.250°","t":"2026-09-04T02:00","v":22.5},{"m":"GFS 0.250°","t":"2026-09-04T05:00","v":17.3},{"m":"GFS 0.250°","t":"2026-09-04T08:00","v":25.1},{"m":"GFS 0.250°","t":"2026-09-04T11:00","v":63.3},{"m":"GFS 0.250°","t":"2026-09-04T14:00","v":72.5},{"m":"GFS 0.250°","t":"2026-09-04T17:00","v":68.1},{"m":"GFS 0.250°","t":"2026-09-04T20:00","v":52.4},{"m":"GFS 0.250°","t":"2026-09-04T23:00","v":42.5},
{"m":"NBM","t":"2026-08-27T12:00","v":71.4},{"m":"NBM","t":"2026-08-27T13:00","v":73.7},{"m":"NBM","t":"2026-08-27T14:00","v":74.8},{"m":"NBM","t":"2026-08-27T15:00","v":75.9},{"m":"NBM","t":"2026-08-27T16:00","v":73.7},{"m":"NBM","t":"2026-08-27T17:00","v":69.6},{"m":"NBM","t":"2026-08-27T18:00","v":66.1},{"m":"NBM","t":"2026-08-27T19:00","v":61.9},{"m":"NBM","t":"2026-08-27T20:00","v":57.1},{"m":"NBM","t":"2026-08-27T21:00","v":55.3},{"m":"NBM","t":"2026-08-27T22:00","v":53.6},{"m":"NBM","t":"2026-08-27T23:00","v":51.9},
{"m":"NBM","t":"2026-08-28T00:00","v":51.6},{"m":"NBM","t":"2026-08-28T01:00","v":50.4},{"m":"NBM","t":"2026-08-28T02:00","v":49.9},{"m":"NBM","t":"2026-08-28T03:00","v":49.5},{"m":"NBM","t":"2026-08-28T04:00","v":48.6},{"m":"NBM","t":"2026-08-28T05:00","v":47.7},{"m":"NBM","t":"2026-08-28T06:00","v":42.8},{"m":"NBM","t":"2026-08-28T07:00","v":39.5},{"m":"NBM","t":"2026-08-28T08:00","v":38.9},{"m":"NBM","t":"2026-08-28T09:00","v":36.7},{"m":"NBM","t":"2026-08-28T10:00","v":36.7},{"m":"NBM","t":"2026-08-28T11:00","v":36.6},{"m":"NBM","t":"2026-08-28T12:00","v":35.8},{"m":"NBM","t":"2026-08-28T13:00","v":32.7},{"m":"NBM","t":"2026-08-28T14:00","v":32.7},{"m":"NBM","t":"2026-08-28T15:00","v":34.2},{"m":"NBM","t":"2026-08-28T16:00","v":34.1},{"m":"NBM","t":"2026-08-28T17:00","v":30.3},{"m":"NBM","t":"2026-08-28T18:00","v":29.4},{"m":"NBM","t":"2026-08-28T19:00","v":28.5},{"m":"NBM","t":"2026-08-28T20:00","v":24.6},{"m":"NBM","t":"2026-08-28T21:00","v":23.0},{"m":"NBM","t":"2026-08-28T22:00","v":20.7},{"m":"NBM","t":"2026-08-28T23:00","v":20.7},
{"m":"NBM","t":"2026-08-29T02:00","v":18.4},{"m":"NBM","t":"2026-08-29T05:00","v":19.8},{"m":"NBM","t":"2026-08-29T08:00","v":23.0},{"m":"NBM","t":"2026-08-29T11:00","v":42.7},{"m":"NBM","t":"2026-08-29T14:00","v":61.0},{"m":"NBM","t":"2026-08-29T17:00","v":65.8},{"m":"NBM","t":"2026-08-29T20:00","v":50.6},{"m":"NBM","t":"2026-08-29T23:00","v":38.3},
{"m":"NBM","t":"2026-08-30T02:00","v":36.0},{"m":"NBM","t":"2026-08-30T05:00","v":35.5},{"m":"NBM","t":"2026-08-30T08:00","v":40.2},{"m":"NBM","t":"2026-08-30T11:00","v":57.8},{"m":"NBM","t":"2026-08-30T14:00","v":67.4},{"m":"NBM","t":"2026-08-30T17:00","v":70.9},{"m":"NBM","t":"2026-08-30T20:00","v":54.7},{"m":"NBM","t":"2026-08-30T23:00","v":43.8},
{"m":"NBM","t":"2026-08-31T02:00","v":39.6},{"m":"NBM","t":"2026-08-31T05:00","v":39.3},{"m":"NBM","t":"2026-08-31T08:00","v":43.8},{"m":"NBM","t":"2026-08-31T11:00","v":62.8},{"m":"NBM","t":"2026-08-31T14:00","v":72.5},{"m":"NBM","t":"2026-08-31T17:00","v":70.5},{"m":"NBM","t":"2026-08-31T20:00","v":51.9},{"m":"NBM","t":"2026-08-31T23:00","v":38.9},
{"m":"NBM","t":"2026-09-01T02:00","v":36.1},{"m":"NBM","t":"2026-09-01T05:00","v":36.1},{"m":"NBM","t":"2026-09-01T08:00","v":38.6},{"m":"NBM","t":"2026-09-01T11:00","v":58.9},{"m":"NBM","t":"2026-09-01T14:00","v":69.7},{"m":"NBM","t":"2026-09-01T17:00","v":66.3},{"m":"NBM","t":"2026-09-01T20:00","v":49.9},{"m":"NBM","t":"2026-09-01T23:00","v":36.6},
{"m":"NBM","t":"2026-09-02T02:00","v":33.1},{"m":"NBM","t":"2026-09-02T05:00","v":33.9},{"m":"NBM","t":"2026-09-02T08:00","v":35.2},{"m":"NBM","t":"2026-09-02T11:00","v":51.9},{"m":"NBM","t":"2026-09-02T14:00","v":61.6},{"m":"NBM","t":"2026-09-02T17:00","v":61.6},{"m":"NBM","t":"2026-09-02T20:00","v":45.6},{"m":"NBM","t":"2026-09-02T23:00","v":33.7},
{"m":"NBM","t":"2026-09-03T02:00","v":30.1},{"m":"NBM","t":"2026-09-03T05:00","v":30.7},{"m":"NBM","t":"2026-09-03T08:00","v":32.1},{"m":"NBM","t":"2026-09-03T11:00","v":49.0},{"m":"NBM","t":"2026-09-03T14:00","v":57.8},{"m":"NBM","t":"2026-09-03T17:00","v":57.8},{"m":"NBM","t":"2026-09-03T20:00","v":42.5},{"m":"NBM","t":"2026-09-03T23:00","v":31.8},
{"m":"NBM","t":"2026-09-04T02:00","v":27.2},{"m":"NBM","t":"2026-09-04T05:00","v":29.5},{"m":"NBM","t":"2026-09-04T08:00","v":31.0},{"m":"NBM","t":"2026-09-04T11:00","v":47.0},{"m":"NBM","t":"2026-09-04T17:00","v":57.9},{"m":"NBM","t":"2026-09-04T23:00","v":33.5}
]},
"layer":[
 {"mark":{"type":"point","filled":true,"opacity":1,"strokeWidth":1},
  "encoding":{
   "x":{"field":"t","type":"temporal","scale":{"domain":[{"year":2026,"month":8,"date":27},{"year":2026,"month":9,"date":5}]},
        "axis":{"orient":"bottom","format":"%m/%d","tickCount":{"interval":"day","step":1},"title":"Date","titleFontSize":23.7,"titleFontWeight":"bold","titlePadding":17,"labelFontSize":24,"labelPadding":27,"tickSize":-9,"labelFlush":false,"labelOverlap":false,"labelBound":false}},
   "y":{"field":"v","type":"quantitative","scale":{"domain":[0,100],"nice":false},
        "axis":{"orient":"left","values":[0,20,40,60,80,100],"title":"Firebrand ignition probability (%)","titleFontSize":23.7,"titleFontWeight":"bold","titlePadding":27,"labelFontSize":24,"labelPadding":23,"tickSize":-9}},
   "fill":{"field":"m","type":"nominal","scale":{"domain":["ECMWF","HRRR","NAM 3 km","NAM 12 km","GFS 0.125°","GFS 0.250°","NBM"],"range":["#0000cc","#006400","#ff0000","#000000","#c0c0c0","#87ceeb","transparent"]},"legend":{"title":null}},
   "stroke":{"field":"m","type":"nominal","scale":{"domain":["ECMWF","HRRR","NAM 3 km","NAM 12 km","GFS 0.125°","GFS 0.250°","NBM"],"range":["#0000cc","#006400","#ff0000","#000000","#c0c0c0","#87ceeb","#ffa500"]},"legend":{"title":null}},
   "shape":{"field":"m","type":"nominal","scale":{"domain":["ECMWF","HRRR","NAM 3 km","NAM 12 km","GFS 0.125°","GFS 0.250°","NBM"],"range":["square","circle","triangle-up","triangle-down","diamond","M0,-1L0.951,-0.309L0.588,0.809L-0.588,0.809L-0.951,-0.309Z","M0,-1L0,1M-1,0L1,0M-0.71,-0.71L0.71,0.71M-0.71,0.71L0.71,-0.71"]},"legend":{"title":null}},
   "size":{"field":"m","type":"nominal","scale":{"domain":["ECMWF","HRRR","NAM 3 km","NAM 12 km","GFS 0.125°","GFS 0.250°","NBM"],"range":[64,100,120,120,110,110,130]},"legend":{"title":null}}
  }},
 {"mark":{"type":"point","opacity":0},
  "encoding":{
   "x":{"field":"t","type":"temporal","scale":{"domain":[{"year":2026,"month":8,"date":27},{"year":2026,"month":9,"date":5}]},
        "axis":{"orient":"top","tickCount":{"interval":"day","step":1},"labels":false,"title":null,"tickSize":-9}},
   "y":{"field":"v","type":"quantitative","scale":{"domain":[0,100],"nice":false},
        "axis":{"orient":"right","values":[0,20,40,60,80,100],"labels":false,"title":null,"tickSize":-9}}
  }}
],
"resolve":{"axis":{"x":"independent","y":"independent"}}
}
